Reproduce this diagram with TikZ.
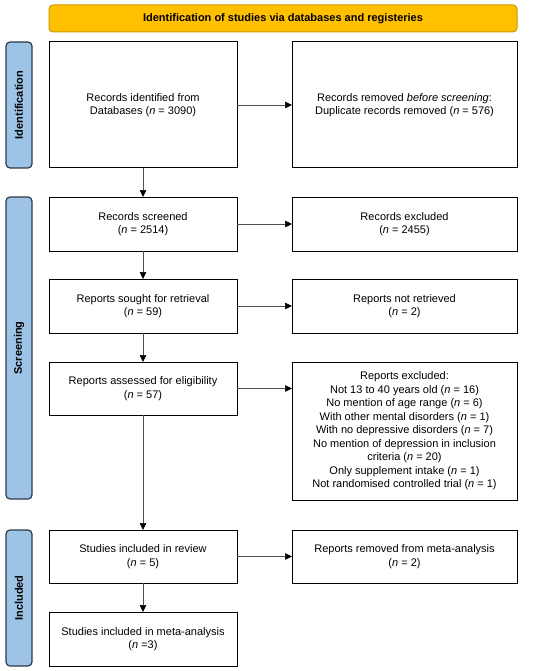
\documentclass[tikz,border=0pt]{standalone}
\usepackage{fontspec}
\setmainfont{Liberation Sans}
\usetikzlibrary{arrows.meta}
\definecolor{hdrfill}{HTML}{FFC000}
\definecolor{hdrdraw}{HTML}{C99700}
\definecolor{labfill}{HTML}{9DC3E6}
\definecolor{labdraw}{HTML}{2E3A48}
\definecolor{arrowc}{HTML}{505050}
\begin{document}
\begin{tikzpicture}[x=1pt,y=-1pt,
  every node/.style={font=\fontsize{11}{13.5}\selectfont, inner sep=0pt, outer sep=0pt},
  box/.style={draw=black, line width=1pt, fill=white, align=center, anchor=north west},
  hdr/.style={draw=hdrdraw, line width=1pt, fill=hdrfill, rounded corners=4pt, align=center, anchor=north west, font=\fontsize{11}{13.5}\selectfont\bfseries},
  lab/.style={draw=labdraw, line width=1.2pt, fill=labfill, rounded corners=4pt, rotate=90, font=\fontsize{11}{13.5}\selectfont\bfseries},
  flow/.style={draw=arrowc, line width=0.7pt, -{Triangle[length=7pt,width=6.5pt,fill=black,color=black]}}
]
\useasboundingbox (0,0) rectangle (550,671);
% header
\node[hdr, minimum width=468pt, minimum height=27pt] (hdr) at (49,5) {Identification of studies via databases and registeries};
% side labels
\node[lab, minimum width=126pt, minimum height=26pt] (lab1) at (19,105) {Identification};
\node[lab, minimum width=302pt, minimum height=26pt] (lab2) at (19,348) {Screening};
\node[lab, minimum width=136pt, minimum height=26pt] (lab3) at (19,598) {Included};
% left column
\node[box, minimum width=188pt, minimum height=126pt] (b1) at (49,42) {Records identified from\\Databases (\textit{n} = 3090)};
\node[box, minimum width=188pt, minimum height=54pt] (b2) at (49,197) {Records screened\\(\textit{n} = 2514)};
\node[box, minimum width=188pt, minimum height=54pt] (b3) at (49,279) {Reports sought for retrieval\\(\textit{n} = 59)};
\node[box, minimum width=188pt, minimum height=53pt] (b4) at (49,362) {Reports assessed for eligibility\\(\textit{n} = 57)};
\node[box, minimum width=188pt, minimum height=53pt] (b5) at (49,530) {Studies included in review\\(\textit{n} = 5)};
\node[box, minimum width=188pt, minimum height=54pt] (b6) at (49,612) {Studies included in meta-analysis\\(\textit{n} =3)};
% right column
\node[box, minimum width=225pt, minimum height=126pt] (r1) at (292,42) {Records removed \textit{before screening}:\\Duplicate records removed (\textit{n} = 576)};
\node[box, minimum width=225pt, minimum height=54pt] (r2) at (292,197) {Records excluded\\(\textit{n} = 2455)};
\node[box, minimum width=225pt, minimum height=54pt] (r3) at (292,279) {Reports not retrieved\\(\textit{n} = 2)};
\node[box, minimum width=225pt, minimum height=138pt] (r4) at (292,362) {Reports excluded:\\Not 13 to 40 years old (\textit{n} = 16)\\No mention of age range (\textit{n} = 6)\\With other mental disorders (\textit{n} = 1)\\With no depressive disorders (\textit{n} = 7)\\No mention of depression in inclusion\\criteria (\textit{n} = 20)\\Only supplement intake (\textit{n} = 1)\\Not randomised controlled trial (\textit{n} = 1)};
\node[box, minimum width=225pt, minimum height=53pt] (r5) at (292,530) {Reports removed from meta-analysis\\(\textit{n} = 2)};
% arrows
\draw[flow] (b1) -- (b2);
\draw[flow] (b2) -- (b3);
\draw[flow] (b3) -- (b4);
\draw[flow] (b4) -- (b5);
\draw[flow] (b5) -- (b6);
\draw[flow] (b1) -- (r1);
\draw[flow] (b2) -- (r2);
\draw[flow] (b3) -- (r3);
\draw[flow] (b4.east) -- (b4.east -| r4.west);
\draw[flow] (b5) -- (r5);
\end{tikzpicture}
\end{document}
